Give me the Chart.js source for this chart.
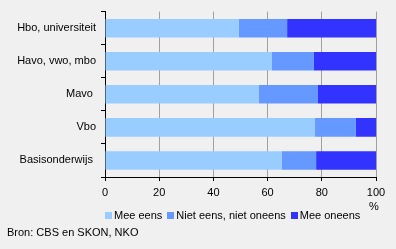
<!DOCTYPE html>
<html>
<head>
<meta charset="utf-8">
<script src="https://cdn.jsdelivr.net/npm/chart.js@4"></script>
<style>
  html, body { margin: 0; padding: 0; background: #f0f0f0; }
  #wrap { position: relative; width: 396px; height: 249px; font-family: "Liberation Sans", Arial, sans-serif; font-size: 11px; color: #000; }
  #chart { position: absolute; left: 0; top: 0; }
  #pct { position: absolute; left: 369px; top: 200px; }
  #legend { position: absolute; left: 105px; top: 209px; display: flex; white-space: nowrap; }
  #legend span.item { display: flex; align-items: center; margin-right: 5px; }
  #legend span.box { display: inline-block; width: 7px; height: 7px; margin-right: 2px; }
  #source { position: absolute; left: 7px; top: 226px; }
</style>
</head>
<body>
<div id="wrap">
  <canvas id="chart" width="396" height="249"></canvas>
  <div id="pct">%</div>
  <div id="legend"></div>
  <div id="source">Bron: CBS en SKON, NKO</div>
</div>
<script>
const categories = ["Hbo, universiteit", "Havo, vwo, mbo", "Mavo ", "Vbo", "Basisonderwijs "];
const seriesNames = ["Mee eens", "Niet eens, niet oneens", "Mee oneens"];
const meeEens = [49.4, 61.6, 56.8, 77.5, 65.3];
const nietEensNietOneens = [17.8, 15.5, 21.8, 15.1, 12.6];
const meeOneens = [32.8, 22.9, 21.4, 7.4, 22.1];
const xTicks = [0, 20, 40, 60, 80, 100];
const colors = ["#99ccff", "#6699ff", "#3333ff"];

const seriesValues = [meeEens, nietEensNietOneens, meeOneens];

const legend = document.getElementById("legend");
seriesNames.forEach((name, i) => {
  const item = document.createElement("span");
  item.className = "item";
  const box = document.createElement("span");
  box.className = "box";
  box.style.background = colors[i];
  item.append(box, document.createTextNode(name));
  legend.appendChild(item);
});

const font = { family: "'Liberation Sans', Arial, sans-serif", size: 11 };

new Chart(document.getElementById("chart"), {
  type: "bar",
  data: {
    labels: categories,
    datasets: seriesNames.map((name, i) => ({
      label: name,
      data: seriesValues[i],
      backgroundColor: colors[i],
      borderWidth: 0,
      categoryPercentage: 1,
      barPercentage: 0.56
    }))
  },
  options: {
    indexAxis: "y",
    responsive: false,
    animation: false,
    layout: { padding: { left: 0, right: 20, top: 5, bottom: 48 } },
    plugins: { legend: { display: false }, tooltip: { enabled: false } },
    scales: {
      x: {
        stacked: true,
        min: 0,
        max: 100,
        afterBuildTicks: s => { s.ticks = xTicks.map(v => ({ value: v })); },
        afterFit: s => { s.height = 24; },
        grid: { color: "#a0a0a0", tickColor: "#000", tickLength: 4, lineWidth: 1 },
        border: { color: "#000" },
        ticks: { color: "#000", font, padding: 5, maxRotation: 0 }
      },
      y: {
        stacked: true,
        afterFit: s => { s.width = 105; },
        grid: { drawOnChartArea: false, offset: true, tickColor: "#000", tickLength: 4 },
        border: { color: "#000" },
        ticks: { color: "#000", font, padding: 5 }
      }
    }
  }
});
</script>
</body>
</html>
